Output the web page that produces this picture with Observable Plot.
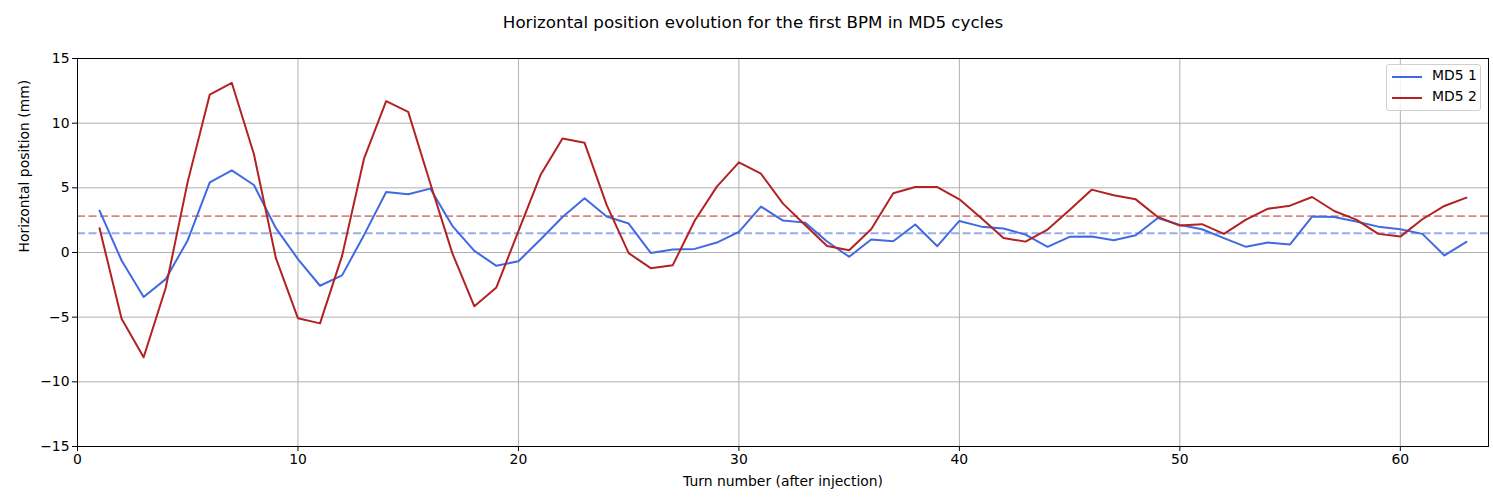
<!DOCTYPE html>
<html>
<head>
<meta charset="utf-8">
<script src="https://cdn.jsdelivr.net/npm/d3@7"></script>
<script src="https://cdn.jsdelivr.net/npm/@observablehq/plot@0.6"></script>
<style>
  body { margin: 0; background: #fff; font-family: "DejaVu Sans", sans-serif; }
  #wrap { position: relative; width: 1493px; height: 499px; }
  #title { position: absolute; left: 0; top: 12px; width: 1506px; text-align: center; font-size: 16.7px; color: #000; }
  #chart { position: absolute; left: 0; top: 44px; }
  #legend { position: absolute; left: 1386px; top: 64px; width: 93px; height: 45px; border: 1px solid #d0d0d0; border-radius: 3px; background: rgba(255,255,255,0.85); font-size: 13.9px; }
  .row { position: absolute; left: 0; height: 20px; }
  .sw { position: absolute; left: 5px; top: 10px; width: 30px; height: 0; border-top: 2px solid; }
  .lb { position: absolute; left: 45px; top: 1px; white-space: nowrap; }
</style>
</head>
<body>
<div id="wrap">
  <div id="title">Horizontal position evolution for the first BPM in MD5 cycles</div>
  <div id="chart"></div>
  <div id="legend"></div>
</div>
<script>
const turns = d3.range(1, 64);
const md5_1 = [3.24, -0.62, -3.44, -2.06, 0.95, 5.42, 6.35, 5.22, 1.88, -0.51,
  -2.57, -1.77, 1.36, 4.68, 4.50, 4.94, 2.06, 0.13, -1.03, -0.67,
  1.0, 2.75, 4.19, 2.78, 2.24, -0.03, 0.23, 0.28, 0.77, 1.59,
  3.55, 2.47, 2.31, 0.85, -0.33, 1.00, 0.87, 2.16, 0.49, 2.44,
  2.0, 1.85, 1.38, 0.44, 1.21, 1.23, 0.95, 1.34, 2.67, 2.13,
  1.80, 1.11, 0.44, 0.77, 0.62, 2.78, 2.75, 2.39, 2.0, 1.80,
  1.44, -0.23, 0.82];
const md5_2 = [1.88, -5.12, -8.10, -2.75, 5.48, 12.21, 13.11, 7.61, -0.44, -5.09,
  -5.48, -0.26, 7.28, 11.70, 10.87, 5.35, -0.05, -4.16, -2.70, 1.65,
  5.99, 8.82, 8.48, 3.68, -0.05, -1.21, -0.98, 2.47, 5.09, 6.97,
  6.09, 3.78, 2.13, 0.51, 0.18, 1.80, 4.58, 5.06, 5.06, 4.11,
  2.65, 1.12, 0.84, 1.77, 3.29, 4.86, 4.42, 4.11, 2.75, 2.08,
  2.19, 1.44, 2.54, 3.39, 3.62, 4.29, 3.21, 2.54, 1.44, 1.23,
  2.57, 3.60, 4.24];
const means = [1.49, 2.81];
const seriesNames = ["MD5 1", "MD5 2"];
const colors = ["#4169e1", "#b22222"];
const xTicks = [0, 10, 20, 30, 40, 50, 60];
const yTicks = [-15, -10, -5, 0, 5, 10, 15];

const rows = [];
[md5_1, md5_2].forEach((vals, s) => vals.forEach((v, i) => rows.push({turn: turns[i], pos: v, series: seriesNames[s]})));
const meanRows = means.map((m, s) => ({series: seriesNames[s], mean: m}));

const chart = Plot.plot({
  width: 1493,
  height: 455,
  marginLeft: 77,
  marginRight: 5,
  marginTop: 14,
  marginBottom: 53,
  style: {fontFamily: "DejaVu Sans", fontSize: "13.9px", color: "#000", background: "#fff"},
  x: {domain: [0, 64]},
  y: {domain: [-15, 15]},
  color: {domain: seriesNames, range: colors},
  marks: [
    Plot.gridX(xTicks, {stroke: "#b0b0b0", strokeOpacity: 1, strokeWidth: 1}),
    Plot.gridY(yTicks, {stroke: "#b0b0b0", strokeOpacity: 1, strokeWidth: 1}),
    Plot.ruleY(meanRows, {y: "mean", stroke: "series", strokeOpacity: 0.55, strokeWidth: 1.8, strokeDasharray: "8,3.5"}),
    Plot.line(rows, {x: "turn", y: "pos", z: "series", stroke: "series", strokeWidth: 2}),
    Plot.frame({stroke: "#000", strokeWidth: 1}),
    Plot.axisX(xTicks, {tickSize: 5, tickPadding: 3, label: null, fontSize: 13.9}),
    Plot.axisY(yTicks, {tickSize: 5, tickPadding: 3, label: null, fontSize: 13.9}),
    Plot.text(["Turn number (after injection)"], {frameAnchor: "bottom", dy: 39, fontSize: 13.9}),
    Plot.text(["Horizontal position (mm)"], {frameAnchor: "left", rotate: -90, dx: -53, fontSize: 13.9})
  ]
});
document.getElementById("chart").appendChild(chart);

const leg = document.getElementById("legend");
seriesNames.forEach((n, i) => {
  const r = document.createElement("div");
  r.className = "row";
  r.style.top = (1 + i * 21) + "px";
  r.innerHTML = `<div class="sw" style="border-color:${colors[i]}"></div><div class="lb">${n}</div>`;
  leg.appendChild(r);
});
</script>
</body>
</html>
